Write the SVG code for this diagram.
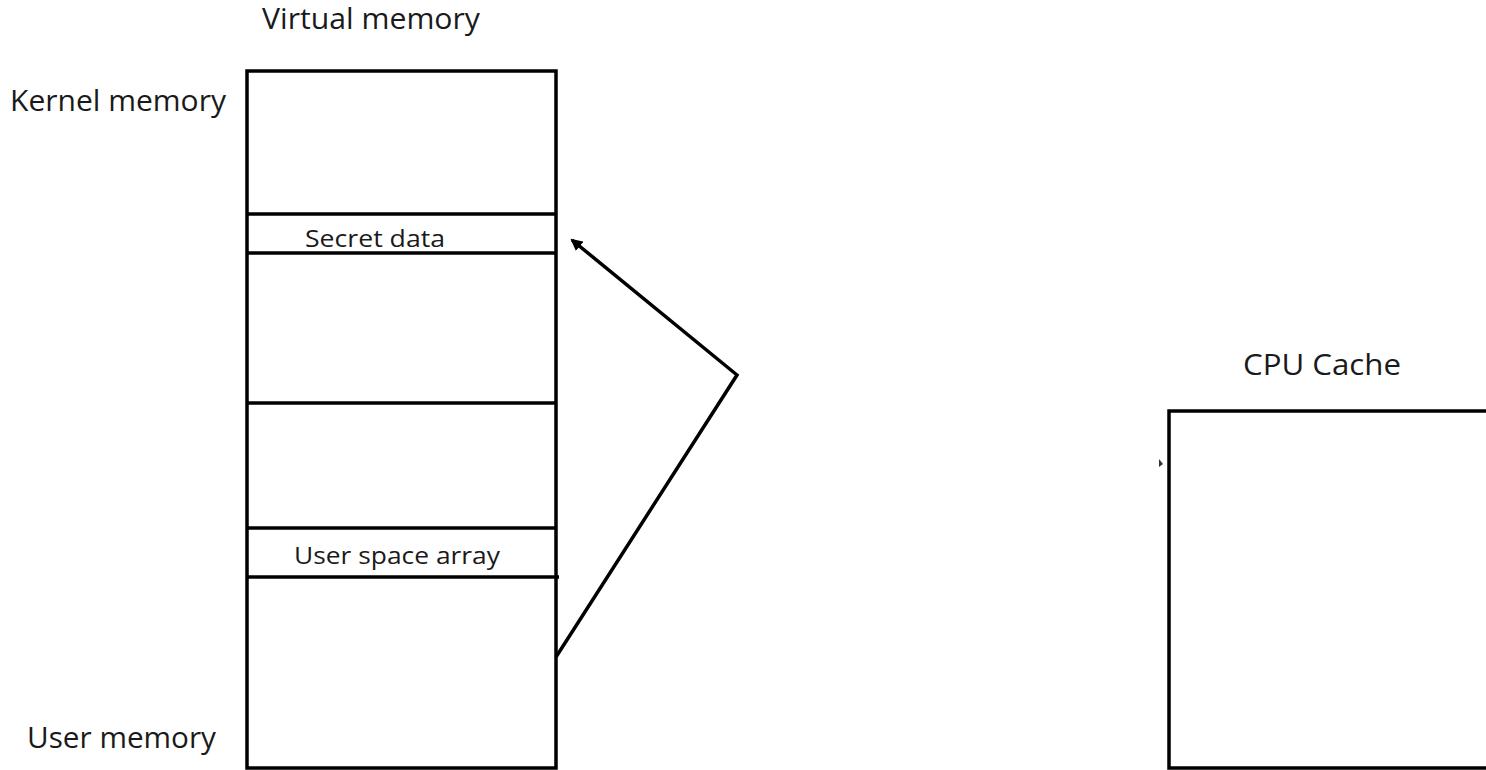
<svg xmlns="http://www.w3.org/2000/svg" width="1486" height="770" viewBox="0 0 1486 770">
<style>
.t{font-family:"Open Sans","Liberation Sans",sans-serif;fill:#1a1a1a}
.big{font-size:29px}
.sm{font-size:23.5px}
.ln{stroke:#000;stroke-width:3.5;fill:none}
</style>
<defs>
<marker id="ah" markerWidth="14" markerHeight="12" refX="10" refY="6" orient="auto" markerUnits="userSpaceOnUse"><path d="M0,0 L12,6 L0,12 Z" fill="#000"/></marker>
</defs>
<rect width="1486" height="770" fill="#fff"/>
<g id="title-vm"><text class="t big" x="371" y="29" text-anchor="middle" textLength="218" lengthAdjust="spacingAndGlyphs">Virtual memory</text></g>
<g id="kernel-label"><text class="t big" x="10" y="111" textLength="216" lengthAdjust="spacingAndGlyphs">Kernel memory</text></g>
<g id="user-label"><text class="t big" x="27" y="748" textLength="189" lengthAdjust="spacingAndGlyphs">User memory</text></g>
<g id="virtual-memory">
<rect class="ln" x="247" y="71" width="309" height="697"/>
<line class="ln" x1="247" y1="214" x2="556" y2="214"/>
<line class="ln" x1="247" y1="253" x2="556" y2="253"/>
<line class="ln" x1="247" y1="403" x2="556" y2="403"/>
<line class="ln" x1="247" y1="528" x2="556" y2="528"/>
<line class="ln" x1="247" y1="577" x2="559" y2="577"/>
</g>
<g id="secret-data"><text class="t sm" x="375" y="247" text-anchor="middle" textLength="140" lengthAdjust="spacingAndGlyphs">Secret data</text></g>
<g id="user-space-array"><text class="t sm" x="397" y="564" text-anchor="middle" textLength="206" lengthAdjust="spacingAndGlyphs">User space array</text></g>
<g id="cpu-cache">
<text class="t big" x="1322" y="375" text-anchor="middle" textLength="158" lengthAdjust="spacingAndGlyphs">CPU Cache</text>
<path class="ln" d="M1488,411 L1169,411 L1169,768 L1488,768"/>
<path d="M1159,459 L1163,464 L1159,467 Z" fill="#333"/>
</g>
<g id="connectors">
<polyline class="ln" points="556,657 737,375 572,240" marker-end="url(#ah)"/>
</g>
</svg>
